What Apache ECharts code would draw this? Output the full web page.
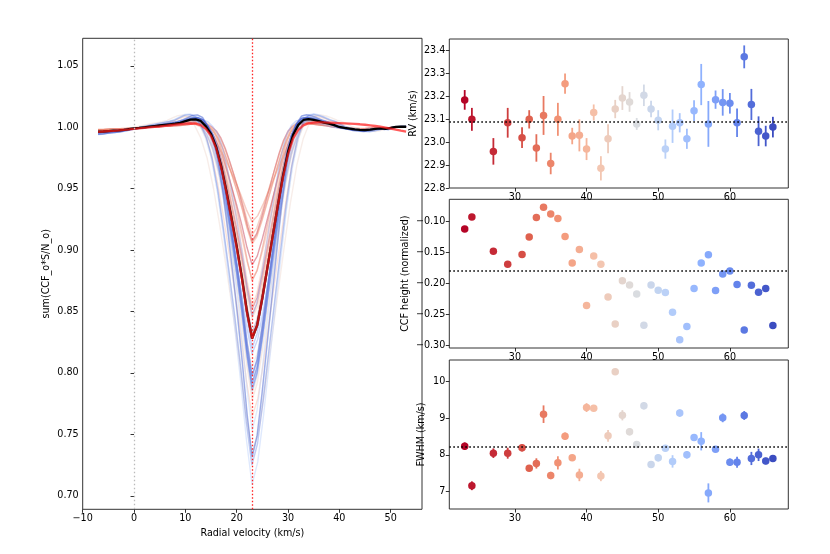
<!DOCTYPE html>
<html><head><meta charset="utf-8">
<script src="https://cdn.jsdelivr.net/npm/echarts@6/dist/echarts.min.js"></script>
<style>html,body{margin:0;padding:0;background:#fff}#c{width:830px;height:554px}</style>
</head><body><div id="c"></div>
<script>
// ---- data ----
const obsX = [23,24,27,29,31,32,33,34,35,36,37,38,39,40,41,42,43,44,45,46,47,48,49,50,51,52,53,54,55,56,57,58,59,60,61,62,63,64,65,66];
const rv = [23.185,23.10,22.96,23.085,23.02,23.10,22.975,23.117,22.907,23.10,23.256,23.027,23.03,22.97,23.13,22.886,23.015,23.145,23.193,23.176,23.08,23.205,23.145,23.096,22.97,23.07,23.085,23.015,23.138,23.252,23.08,23.186,23.174,23.17,23.085,23.373,23.165,23.048,23.027,23.066];
const rvErr = [0.043,0.05,0.058,0.065,0.045,0.04,0.06,0.085,0.047,0.072,0.044,0.036,0.07,0.048,0.035,0.053,0.063,0.04,0.052,0.043,0.026,0.047,0.036,0.044,0.042,0.073,0.042,0.044,0.045,0.09,0.1,0.04,0.058,0.045,0.062,0.05,0.068,0.065,0.045,0.045];
const ccfHeight = [-0.112,-0.0925,-0.148,-0.169,-0.153,-0.125,-0.0935,-0.0768,-0.0876,-0.095,-0.124,-0.167,-0.145,-0.2356,-0.1555,-0.169,-0.222,-0.2655,-0.1955,-0.2025,-0.217,-0.2677,-0.2025,-0.211,-0.2147,-0.2466,-0.291,-0.2697,-0.208,-0.167,-0.1536,-0.2115,-0.1846,-0.1797,-0.2017,-0.275,-0.2028,-0.214,-0.2083,-0.268];
const fwhm = [8.237,7.155,8.045,8.045,8.19,7.635,7.765,9.11,7.435,7.78,8.51,7.92,7.45,9.29,9.27,7.42,8.52,10.27,9.08,8.63,8.28,9.34,7.735,7.92,8.18,7.82,9.14,8.0,8.47,8.37,6.96,8.155,9.01,7.8,7.8,9.075,7.9,8.0,7.83,7.9];
const fwhmErr = [0.1,0.12,0.13,0.15,0.1,0.08,0.14,0.24,0.1,0.18,0.1,0.05,0.17,0.12,0.08,0.14,0.16,0.08,0.14,0.1,0.06,0.1,0.06,0.1,0.09,0.17,0.1,0.1,0.08,0.25,0.26,0.07,0.12,0.1,0.15,0.12,0.18,0.17,0.09,0.09];

const velocityGrid = [-7,-6,-5,-4,-3,-2,-1,0,1,2,3,4,5,6,7,8,9,10,11,12,13,14,15,16,17,18,19,20,21,22,23,24,25,26,27,28,29,30,31,32,33,34,35,36,37,38,39,40,41,42,43,44,45,46,47,48,49,50,51,52,53];
const meanCCF = [0.9964,0.9966,0.9970,0.9973,0.9975,0.9980,0.9986,0.9992,0.9995,1.0000,1.0005,1.0010,1.0015,1.0020,1.0025,1.0030,1.0037,1.0050,1.0062,1.0065,1.0052,1.0008,0.9945,0.984,0.968,0.948,0.926,0.903,0.878,0.850,0.828,0.839,0.861,0.886,0.911,0.936,0.960,0.980,0.994,1.002,1.0060,1.0066,1.0060,1.0050,1.0038,1.0030,1.0018,1.0003,0.9995,0.9990,0.9983,0.9980,0.9978,0.9982,0.9988,0.9992,0.9988,0.9995,1.0003,1.0005,1.0005];
const fitCCF = [0.9963,0.9966,0.9969,0.9972,0.9976,0.9980,0.9983,0.9987,0.9991,0.9995,0.9999,1.0003,1.0007,1.0012,1.0017,1.0022,1.0027,1.0031,1.0033,1.0030,1.0018,0.9988,0.9930,0.983,0.967,0.947,0.925,0.902,0.877,0.849,0.828,0.839,0.861,0.886,0.911,0.936,0.959,0.978,0.991,0.998,1.0018,1.0033,1.0038,1.0040,1.0040,1.0039,1.0037,1.0035,1.0033,1.0031,1.0028,1.0025,1.0021,1.0016,1.0011,1.0005,0.9998,0.9990,0.9982,0.9973,0.9965];

const rvRef = 23.088, heightRef = -0.179, fwhmRef = 8.22, centerVel = 23.1, zeroVel = 0;

const leftXTicks = [-10,0,10,20,30,40,50];
const leftYTicks = [0.70,0.75,0.80,0.85,0.90,0.95,1.00,1.05];
const obsXTicks = [30,40,50,60];
const rvTicks = [22.8,22.9,23.0,23.1,23.2,23.3,23.4];
const heightTicks = [-0.30,-0.25,-0.20,-0.15,-0.10];
const fwhmTicks = [7,8,9,10];

// ---- styling helpers ----
const cmapStops = [[59,76,192],[98,130,234],[141,176,254],[184,208,249],[221,221,221],[245,196,173],[244,154,123],[222,96,77],[180,4,38]];
function coolwarm(t){
  const s = t*(cmapStops.length-1); const i = Math.min(Math.floor(s), cmapStops.length-2); const f = s-i;
  const a = cmapStops[i], b = cmapStops[i+1];
  return 'rgb(' + [0,1,2].map(k=>Math.round(a[k]+(b[k]-a[k])*f)).join(',') + ')';
}
const n = obsX.length;
const colors = obsX.map((_, i) => coolwarm(1 - i/(n-1)));
const minus = s => s.replace('-', '\u2212');
const FONT = 'DejaVu Sans';
const FS = 9.6;

function axisCommon(ticks, fmt){
  return {
    axisLine:{show:false},
    splitLine:{show:false},
    axisTick:{show:true, length:3.5, inside:false, lineStyle:{color:'#000', width:0.8}, customValues:ticks},
    axisLabel:{show:true, color:'#000', fontSize:FS, fontFamily:FONT, margin:4, customValues:ticks, formatter:fmt},
    nameTextStyle:{color:'#000', fontSize:FS, fontFamily:FONT}
  };
}

const grids = [
  {left:82.7, top:38.3, width:339.3, height:471},
  {left:449.3, top:39, width:339, height:149},
  {left:449.3, top:199.3, width:339, height:148.7},
  {left:449.3, top:360, width:339, height:149}
].map(g => Object.assign({show:true, borderColor:'#333', borderWidth:1, backgroundColor:'transparent', containLabel:false}, g));

const xAxes = [
  Object.assign({type:'value', gridIndex:0, min:-10, max:56.1, name:'Radial velocity (km/s)', nameLocation:'middle', nameGap:19}, axisCommon(leftXTicks, v=>minus(String(v)))),
  Object.assign({type:'value', gridIndex:1, min:20.85, max:68.15}, axisCommon(obsXTicks, v=>String(v))),
  Object.assign({type:'value', gridIndex:2, min:20.85, max:68.15}, axisCommon(obsXTicks, v=>String(v))),
  Object.assign({type:'value', gridIndex:3, min:20.85, max:68.15}, axisCommon(obsXTicks, v=>String(v)))
];
const yAxes = [
  Object.assign({type:'value', gridIndex:0, min:0.689, max:1.0725, name:'sum(CCF_o*S/N_o)', nameLocation:'middle', nameGap:31}, axisCommon(leftYTicks, v=>v.toFixed(2))),
  Object.assign({type:'value', gridIndex:1, min:22.8, max:23.451, name:'RV (km/s)', nameLocation:'middle', nameGap:31}, axisCommon(rvTicks, v=>v.toFixed(1))),
  Object.assign({type:'value', gridIndex:2, min:-0.3043, max:-0.0639, name:'CCF height (normalized)', nameLocation:'middle', nameGap:39}, axisCommon(heightTicks, v=>minus(v.toFixed(2)))),
  Object.assign({type:'value', gridIndex:3, min:6.52, max:10.59, name:'FWHM (km/s)', nameLocation:'middle', nameGap:23}, axisCommon(fwhmTicks, v=>String(v)))
];

const series = [];
// individual CCF curves: the mean profile with its depth scaled by each observation's
// CCF height and its core width scaled by each observation's FWHM (both read from the right panels)
const meanDepth = Math.min(...meanCCF) - 1;
function coreWeight(d){ return d < 8 ? 1 : Math.max(0, 1 - (d - 8) / 22); }
for (let i = 0; i < n; i++) {
  const k = ccfHeight[i] / meanDepth;
  const r = fwhm[i] / fwhmRef;
  series.push({
    type:'line', xAxisIndex:0, yAxisIndex:0, silent:true, showSymbol:false, symbol:'none', smooth:false,
    lineStyle:{color:colors[i], width:1.4, opacity:0.38},
    data: velocityGrid.map((v, j) => {
      const d = v - rv[i];
      return [rv[i] + d * (1 + (r - 1) * coreWeight(Math.abs(d))), 1 + (meanCCF[j] - 1) * k];
    }),
    z:2
  });
}
series.push({
  type:'line', xAxisIndex:0, yAxisIndex:0, silent:true, showSymbol:false, symbol:'none',
  lineStyle:{color:'#000', width:2.3},
  data: velocityGrid.map((v, j) => [v, meanCCF[j]]), z:3,
  markLine:{silent:true, symbol:'none', label:{show:false}, animation:false,
    data:[
      {xAxis:zeroVel, lineStyle:{color:'#bbbbbb', type:[1.5,2.5], width:1.3}},
      {xAxis:centerVel, lineStyle:{color:'#ff2020', type:[1.5,2], width:1.3}}
    ]}
});
series.push({
  type:'line', xAxisIndex:0, yAxisIndex:0, silent:true, showSymbol:false, symbol:'none',
  lineStyle:{color:'#ff1a1a', width:2.3, opacity:0.72},
  data: velocityGrid.map((v, j) => [v, fitCCF[j]]), z:4
});

function errSeries(ai, vals, errs){
  return {
    type:'custom', xAxisIndex:ai, yAxisIndex:ai, silent:true, z:3,
    data: obsX.map((x, i) => [x, vals[i], errs[i]]),
    renderItem: (params, api) => {
      const x = api.value(0), y = api.value(1), e = api.value(2);
      const p1 = api.coord([x, y - e]), p2 = api.coord([x, y + e]);
      return {type:'line', shape:{x1:p1[0], y1:p1[1], x2:p2[0], y2:p2[1]}, style:{stroke:colors[params.dataIndex], lineWidth:1.8}};
    }
  };
}
function dotSeries(ai, vals, ref){
  return {
    type:'scatter', xAxisIndex:ai, yAxisIndex:ai, silent:true, symbolSize:7.5, z:4,
    data: obsX.map((x, i) => ({value:[x, vals[i]], itemStyle:{color:colors[i], opacity:1}})),
    markLine:{silent:true, symbol:'none', label:{show:false}, animation:false,
      lineStyle:{color:'#000', type:[1.6,2.4], width:1.6},
      data:[{yAxis:ref}]}
  };
}
series.push(errSeries(1, rv, rvErr));
series.push(dotSeries(1, rv, rvRef));
series.push(dotSeries(2, ccfHeight, heightRef));
series.push(errSeries(3, fwhm, fwhmErr));
series.push(dotSeries(3, fwhm, fwhmRef));

const chart = echarts.init(document.getElementById('c'), null, {renderer:'canvas'});
chart.setOption({
  animation:false,
  backgroundColor:'#fff',
  textStyle:{fontFamily:FONT},
  grid:grids, xAxis:xAxes, yAxis:yAxes, series:series
});
</script></body></html>
